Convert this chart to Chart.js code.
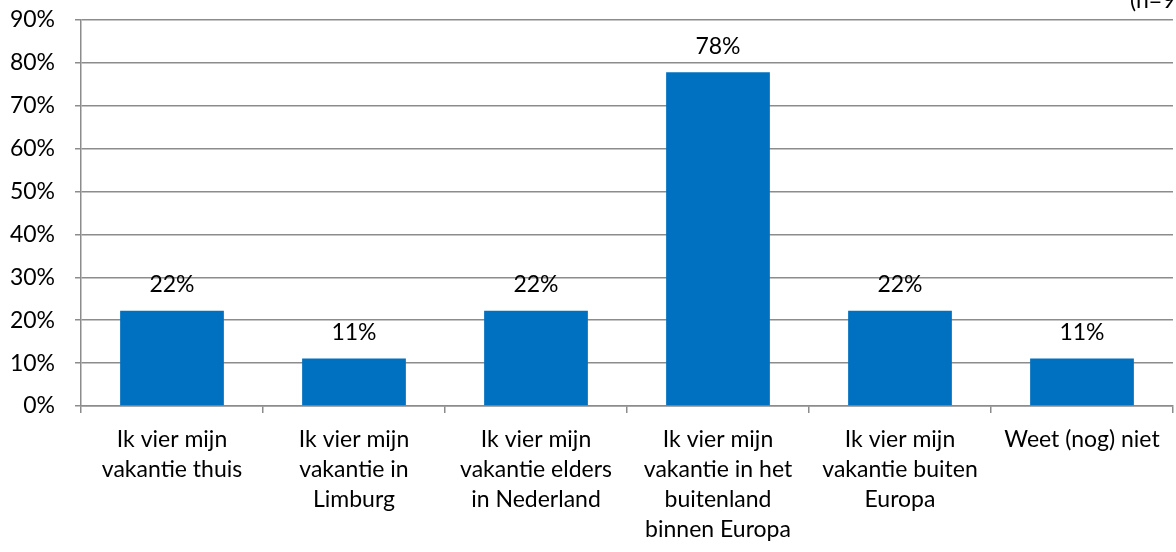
<!DOCTYPE html>
<html>
<head>
<meta charset="utf-8">
<script src="https://cdn.jsdelivr.net/npm/chart.js@4/dist/chart.umd.min.js"></script>
<style>
  html, body { margin: 0; padding: 0; background: #fff; }
  #wrap { width: 1176px; height: 552px; position: relative; }
</style>
</head>
<body>
<div id="wrap"><canvas id="chart"></canvas></div>
<script>
// Vakantieplannen (n=9)
const CATEGORIES = [
  ['Ik vier mijn', 'vakantie thuis'],
  ['Ik vier mijn', 'vakantie in', 'Limburg'],
  ['Ik vier mijn', 'vakantie elders', 'in Nederland'],
  ['Ik vier mijn', 'vakantie in het', 'buitenland', 'binnen Europa'],
  ['Ik vier mijn', 'vakantie buiten', 'Europa'],
  ['Weet (nog) niet'],
];
const VALUES = [22.2, 11.1, 22.2, 77.8, 22.2, 11.1];
const Y_TICKS = [0, 10, 20, 30, 40, 50, 60, 70, 80, 90];
const NOTE = '(n=9)';

const FONT = 'Lato, "Open Sans", sans-serif';
const FONT_SIZE = 23;
const BAR_COLOR = '#0070c0';
const LINE_COLOR = '#8c8c8c';

// value labels above the bars
const barLabels = {
  id: 'barLabels',
  afterDatasetsDraw(chart) {
    const ctx = chart.ctx;
    const meta = chart.getDatasetMeta(0);
    ctx.save();
    ctx.font = FONT_SIZE + 'px ' + FONT;
    ctx.fillStyle = '#000';
    ctx.textAlign = 'center';
    ctx.textBaseline = 'middle';
    meta.data.forEach((bar, i) => {
      ctx.fillText(Math.round(VALUES[i]) + '%', bar.x, bar.y - 26);
    });
    ctx.restore();
  }
};

// clipped note at the top right, as in the original
const cornerNote = {
  id: 'cornerNote',
  afterDraw(chart) {
    const ctx = chart.ctx;
    ctx.save();
    ctx.font = FONT_SIZE + 'px ' + FONT;
    ctx.fillStyle = '#000';
    ctx.textAlign = 'left';
    ctx.textBaseline = 'alphabetic';
    ctx.fillText(NOTE, 1130, 8);
    ctx.restore();
  }
};

new Chart(document.getElementById('chart'), {
  type: 'bar',
  data: {
    labels: CATEGORIES,
    datasets: [{
      data: VALUES,
      backgroundColor: BAR_COLOR,
      borderWidth: 0,
      categoryPercentage: 0.57,
      barPercentage: 1,
    }]
  },
  options: {
    responsive: true,
    maintainAspectRatio: false,
    animation: false,
    layout: { padding: { left: 0, right: 3, top: 20, bottom: 0 } },
    plugins: {
      legend: { display: false },
      tooltip: { enabled: false },
    },
    scales: {
      x: {
        offset: true,
        afterFit: (axis) => { axis.height = 146; axis.paddingLeft = 0; axis.paddingRight = 0; },
        grid: {
          offset: true,
          drawOnChartArea: false,
          drawTicks: true,
          tickLength: 7,
          color: LINE_COLOR,
          lineWidth: 1.5,
        },
        border: { color: LINE_COLOR, width: 1.5 },
        ticks: {
          color: '#000',
          font: { family: FONT, size: FONT_SIZE, lineHeight: 30 / FONT_SIZE },
          padding: 12,
          maxRotation: 0,
          autoSkip: false,
        },
      },
      y: {
        min: 0,
        max: 90,
        afterBuildTicks: (axis) => { axis.ticks = Y_TICKS.map(v => ({ value: v })); },
        afterFit: (axis) => { axis.width = 81; axis.paddingTop = 0; axis.paddingBottom = 0; },
        grid: {
          color: LINE_COLOR,
          lineWidth: 1.5,
          tickLength: 6,
        },
        border: { color: LINE_COLOR, width: 1.5 },
        ticks: {
          color: '#000',
          font: { family: FONT, size: FONT_SIZE },
          padding: 20,
          callback: (v) => v + '%',
        },
      },
    },
  },
  plugins: [barLabels, cornerNote],
});
</script>
</body>
</html>
